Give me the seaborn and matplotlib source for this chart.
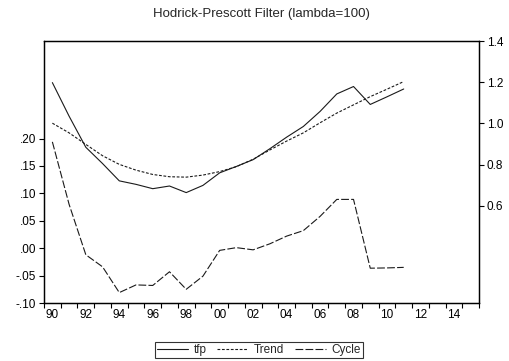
import numpy as np
import pandas as pd
import matplotlib
matplotlib.use("Agg")
import matplotlib.pyplot as plt
import seaborn as sns
from matplotlib.ticker import FixedLocator, FixedFormatter

years = list(range(1990, 2012))

tfp = [1.198, 1.035, 0.884, 0.805, 0.721, 0.704, 0.683, 0.696, 0.664, 0.699,
       0.760, 0.791, 0.824, 0.877, 0.933, 0.985, 1.058, 1.143, 1.179, 1.092,
       1.129, 1.167]
trend = [1.001, 0.954, 0.898, 0.843, 0.801, 0.773, 0.752, 0.741, 0.739, 0.749,
         0.766, 0.790, 0.826, 0.871, 0.914, 0.954, 1.003, 1.050, 1.090, 1.130,
         1.166, 1.203]
cycle = [0.194, 0.080, -0.012, -0.034, -0.081, -0.067, -0.068, -0.043, -0.075, -0.051,
         -0.004, 0.001, -0.003, 0.008, 0.022, 0.032, 0.058, 0.089, 0.089, -0.0365,
         -0.036, -0.035]

x_tick_years = list(range(1990, 2016, 2))
x_tick_labels = [f"{y % 100:02d}" for y in x_tick_years]
left_ticks = [-0.10, -0.05, 0.00, 0.05, 0.10, 0.15, 0.20]
left_labels = ["-.10", "-.05", ".00", ".05", ".10", ".15", ".20"]
right_ticks = [0.6, 0.8, 1.0, 1.2, 1.4]
right_labels = ["0.6", "0.8", "1.0", "1.2", "1.4"]

df = pd.DataFrame({"year": years, "tfp": tfp, "Trend": trend, "Cycle": cycle})

sns.set_style("white")
plt.rcParams["font.family"] = ["Liberation Sans", "DejaVu Sans"]

fig = plt.figure(figsize=(5.09, 3.61), dpi=100)
ax_l = fig.add_axes([44 / 509, 58 / 361, 435 / 509, 262 / 361])
ax_r = ax_l.twinx()

lw = 0.8
line_color = "#1a1a1a"
sns.lineplot(data=df, x="year", y="Cycle", ax=ax_l, color=line_color, lw=lw,
             legend=False)
ax_l.lines[-1].set_dashes([7, 2])
sns.lineplot(data=df, x="year", y="tfp", ax=ax_r, color=line_color, lw=lw, legend=False)
sns.lineplot(data=df, x="year", y="Trend", ax=ax_r, color=line_color, lw=lw, legend=False)
ax_r.lines[-1].set_dashes([2.5, 1.5])

ax_l.set_xlim(1989.5, 2015.5)
ax_l.set_ylim(-0.10, 0.378)
ax_r.set_ylim(0.128, 1.40)

# year labels sit between boundary ticks
ax_l.xaxis.set_major_locator(FixedLocator(x_tick_years))
ax_l.xaxis.set_major_formatter(FixedFormatter(x_tick_labels))
ax_l.xaxis.set_minor_locator(FixedLocator(np.arange(1989.5, 2016, 1.0)))
ax_l.tick_params(axis="x", which="major", length=0, pad=4, labelsize=8.5, colors="black")
ax_l.tick_params(axis="x", which="minor", length=3.5, width=0.8, direction="out",
                 bottom=True, color="black")

ax_l.set_yticks(left_ticks)
ax_l.set_yticklabels(left_labels)
ax_l.tick_params(axis="y", which="major", length=3.5, width=0.8, direction="out",
                 left=True, labelsize=8.5, colors="black", pad=2)
ax_r.set_yticks(right_ticks)
ax_r.set_yticklabels(right_labels)
ax_r.tick_params(axis="y", which="major", length=3.5, width=0.8, direction="out",
                 right=True, labelsize=8.5, colors="black", pad=2)

for a in (ax_l, ax_r):
    a.set_xlabel("")
    a.set_ylabel("")
    for s in a.spines.values():
        s.set_color("black")
        s.set_linewidth(0.9)
        s.set_visible(True)
    a.grid(False)

fig.text(261.5 / 509, 1 - 14 / 361, "Hodrick-Prescott Filter (lambda=100)",
         ha="center", va="center", fontsize=9.5)

handles = [ax_r.lines[0], ax_r.lines[1], ax_l.lines[0]]
leg = fig.legend(handles, ["tfp", "Trend", "Cycle"], loc="center", ncol=3,
                 bbox_to_anchor=(259 / 509, 1 - 350 / 361), fontsize=8.5,
                 frameon=True, fancybox=False, handlelength=2.6, handletextpad=0.5,
                 columnspacing=0.9, borderpad=0.15, borderaxespad=0,
                 handleheight=0.6)
leg.get_frame().set_edgecolor("black")
leg.get_frame().set_linewidth(0.8)

fig.savefig("out.png", dpi=100)
